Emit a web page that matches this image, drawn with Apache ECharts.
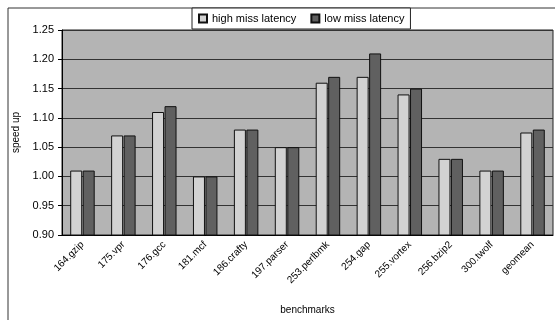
<!DOCTYPE html>
<html><head><meta charset="utf-8">
<script src="https://cdn.jsdelivr.net/npm/echarts@6/dist/echarts.min.js"></script>
<style>html,body{margin:0;padding:0;background:#fff}#c{width:555px;height:320px}</style>
</head><body><div id="c"></div>
<script>
var categories = ['164.gzip','175.vpr','176.gcc','181.mcf','186.crafty','197.parser','253.perlbmk','254.gap','255.vortex','256.bzip2','300.twolf','geomean'];
var highMiss = [1.01,1.07,1.11,1.00,1.08,1.05,1.16,1.17,1.14,1.03,1.01,1.075];
var lowMiss = [1.01,1.07,1.12,1.00,1.08,1.05,1.17,1.21,1.15,1.03,1.01,1.08];
var seriesNames = ['high miss latency','low miss latency'];

var chart = echarts.init(document.getElementById('c'));
var font = 'Liberation Sans, Arial, sans-serif';
chart.setOption({
  animation:false,
  textStyle:{fontFamily:font},
  graphic:[
    {type:'rect',shape:{x:8,y:8,width:560,height:320},style:{fill:'none',stroke:'#333',lineWidth:1},z:-1}
  ],
  legend:{
    top:8,left:192,
    data:seriesNames,
    icon:'rect',
    itemWidth:8,itemHeight:8,itemGap:14,
    padding:[5,6,5,6],
    backgroundColor:'#fff',borderColor:'#222',borderWidth:1,
    textStyle:{fontSize:11,color:'#000',fontFamily:font},
    z:10
  },
  grid:{left:62,right:2,top:30,bottom:83,show:true,backgroundColor:'#b4b4b4',borderColor:'#222',borderWidth:1},
  xAxis:{
    type:'category',data:categories,
    name:'benchmarks',nameLocation:'middle',nameGap:70,
    nameTextStyle:{fontSize:10,color:'#000'},
    axisLine:{lineStyle:{color:'#000',width:1}},
    axisTick:{show:false},
    axisLabel:{rotate:45,fontSize:10,color:'#000',margin:8,interval:0}
  },
  yAxis:{
    type:'value',min:0.90,max:1.25,interval:0.05,
    name:'speed up',nameLocation:'middle',nameGap:40,
    nameTextStyle:{fontSize:10,color:'#000'},
    axisLine:{show:true,lineStyle:{color:'#000'}},
    axisTick:{show:true,length:4,lineStyle:{color:'#000'}},
    axisLabel:{fontSize:11,color:'#000',formatter:function(v){return v.toFixed(2);}},
    splitLine:{show:true,lineStyle:{color:'#333',width:1}}
  },
  series:[
    {name:seriesNames[0],type:'bar',data:highMiss,barWidth:12,barGap:'4%',
     itemStyle:{color:'#d2d2d2',borderColor:'#111',borderWidth:1}},
    {name:seriesNames[1],type:'bar',data:lowMiss,barWidth:12,
     itemStyle:{color:'#606060',borderColor:'#111',borderWidth:1}}
  ]
});
</script></body></html>
